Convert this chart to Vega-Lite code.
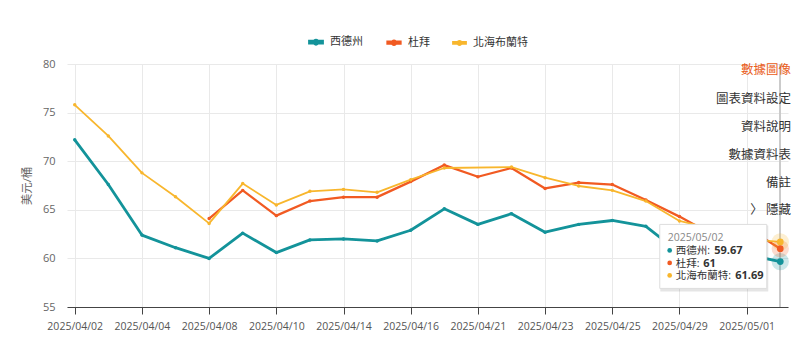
{
  "$schema": "https://vega.github.io/schema/vega-lite/v6.json",
  "autosize": "none",
  "width": 721,
  "height": 243,
  "padding": {"left": 67, "top": 64, "right": 12, "bottom": 33},
  "background": "white",
  "config": {
    "font": "Open Sans, Noto Sans CJK TC, sans-serif",
    "view": {"stroke": null}
  },
  "title": {
    "text": "數據圖像",
    "subtitle": ["圖表資料設定", "資料說明", "數據資料表", "備註", "〉 隱藏"],
    "anchor": "end",
    "frame": "group",
    "orient": "top",
    "offset": -183,
    "dx": 3,
    "fontSize": 12.5,
    "fontWeight": "normal",
    "color": "#e95c20",
    "subtitleFontSize": 12.5,
    "subtitleColor": "#333333",
    "subtitleLineHeight": 27.8,
    "subtitlePadding": 17
  },
  "datasets": {
    "prices": [
      {"date": "2025/04/02", "series": "西德州", "value": 72.2},
      {"date": "2025/04/03", "series": "西德州", "value": 67.6},
      {"date": "2025/04/04", "series": "西德州", "value": 62.4},
      {"date": "2025/04/07", "series": "西德州", "value": 61.1},
      {"date": "2025/04/08", "series": "西德州", "value": 60.0},
      {"date": "2025/04/09", "series": "西德州", "value": 62.6},
      {"date": "2025/04/10", "series": "西德州", "value": 60.6},
      {"date": "2025/04/11", "series": "西德州", "value": 61.9},
      {"date": "2025/04/14", "series": "西德州", "value": 62.0},
      {"date": "2025/04/15", "series": "西德州", "value": 61.8},
      {"date": "2025/04/16", "series": "西德州", "value": 62.9},
      {"date": "2025/04/17", "series": "西德州", "value": 65.1},
      {"date": "2025/04/21", "series": "西德州", "value": 63.5},
      {"date": "2025/04/22", "series": "西德州", "value": 64.6},
      {"date": "2025/04/23", "series": "西德州", "value": 62.7},
      {"date": "2025/04/24", "series": "西德州", "value": 63.5},
      {"date": "2025/04/25", "series": "西德州", "value": 63.9},
      {"date": "2025/04/28", "series": "西德州", "value": 63.3},
      {"date": "2025/04/29", "series": "西德州", "value": 60.6},
      {"date": "2025/04/30", "series": "西德州", "value": 59.8},
      {"date": "2025/05/01", "series": "西德州", "value": 60.4},
      {"date": "2025/05/02", "series": "西德州", "value": 59.67},
      {"date": "2025/04/08", "series": "杜拜", "value": 64.1},
      {"date": "2025/04/09", "series": "杜拜", "value": 67.0},
      {"date": "2025/04/10", "series": "杜拜", "value": 64.4},
      {"date": "2025/04/11", "series": "杜拜", "value": 65.9},
      {"date": "2025/04/14", "series": "杜拜", "value": 66.3},
      {"date": "2025/04/15", "series": "杜拜", "value": 66.3},
      {"date": "2025/04/16", "series": "杜拜", "value": 67.9},
      {"date": "2025/04/17", "series": "杜拜", "value": 69.6},
      {"date": "2025/04/21", "series": "杜拜", "value": 68.4},
      {"date": "2025/04/22", "series": "杜拜", "value": 69.3},
      {"date": "2025/04/23", "series": "杜拜", "value": 67.2},
      {"date": "2025/04/24", "series": "杜拜", "value": 67.8},
      {"date": "2025/04/25", "series": "杜拜", "value": 67.6},
      {"date": "2025/04/28", "series": "杜拜", "value": 66.0},
      {"date": "2025/04/29", "series": "杜拜", "value": 64.3},
      {"date": "2025/04/30", "series": "杜拜", "value": 62.4},
      {"date": "2025/05/01", "series": "杜拜", "value": 63.2},
      {"date": "2025/05/02", "series": "杜拜", "value": 61},
      {"date": "2025/04/02", "series": "北海布蘭特", "value": 75.8},
      {"date": "2025/04/03", "series": "北海布蘭特", "value": 72.6},
      {"date": "2025/04/04", "series": "北海布蘭特", "value": 68.8},
      {"date": "2025/04/07", "series": "北海布蘭特", "value": 66.35},
      {"date": "2025/04/08", "series": "北海布蘭特", "value": 63.6},
      {"date": "2025/04/09", "series": "北海布蘭特", "value": 67.7},
      {"date": "2025/04/10", "series": "北海布蘭特", "value": 65.5},
      {"date": "2025/04/11", "series": "北海布蘭特", "value": 66.9},
      {"date": "2025/04/14", "series": "北海布蘭特", "value": 67.1},
      {"date": "2025/04/15", "series": "北海布蘭特", "value": 66.8},
      {"date": "2025/04/16", "series": "北海布蘭特", "value": 68.1},
      {"date": "2025/04/17", "series": "北海布蘭特", "value": 69.3},
      {"date": "2025/04/22", "series": "北海布蘭特", "value": 69.4},
      {"date": "2025/04/23", "series": "北海布蘭特", "value": 68.3},
      {"date": "2025/04/24", "series": "北海布蘭特", "value": 67.45},
      {"date": "2025/04/25", "series": "北海布蘭特", "value": 67.0},
      {"date": "2025/04/28", "series": "北海布蘭特", "value": 65.9},
      {"date": "2025/04/29", "series": "北海布蘭特", "value": 63.85},
      {"date": "2025/04/30", "series": "北海布蘭特", "value": 63.0},
      {"date": "2025/05/01", "series": "北海布蘭特", "value": 62.0},
      {"date": "2025/05/02", "series": "北海布蘭特", "value": 61.69}
    ]
  },
  "data": {"name": "prices"},
  "layer": [
    {
      "mark": {"type": "rule", "color": "#cccccc", "strokeWidth": 1},
      "encoding": {
        "x": {"datum": "2025/05/02", "type": "ordinal"}
      }
    },
    {
      "mark": {"type": "line", "strokeJoin": "round"},
      "encoding": {
        "x": {
          "field": "date",
          "type": "ordinal",
          "scale": {"type": "point", "padding": 0.23},
          "axis": {
            "values": ["2025/04/02", "2025/04/04", "2025/04/08", "2025/04/10", "2025/04/14", "2025/04/16", "2025/04/21", "2025/04/23", "2025/04/25", "2025/04/29", "2025/05/01"],
            "title": null,
            "labelAngle": 0,
            "labelAlign": "center",
            "labelBaseline": "top",
            "grid": true,
            "gridColor": "#e9e9e9",
            "domainColor": "#444444",
            "tickColor": "#444444",
            "tickSize": 7,
            "labelPadding": 7,
            "labelFontSize": 10.5,
            "labelColor": "#555555"
          }
        },
        "y": {
          "field": "value",
          "type": "quantitative",
          "scale": {"domain": [55, 80], "zero": false, "nice": false},
          "axis": {
            "values": [55, 60, 65, 70, 75, 80],
            "title": "美元/桶",
            "domain": false,
            "ticks": false,
            "labelPadding": 12,
            "gridColor": "#e9e9e9",
            "labelColor": "#666666",
            "labelFontSize": 11,
            "titleColor": "#666666",
            "titleFontSize": 11.5,
            "titleFontWeight": "normal",
            "titlePadding": 10
          }
        },
        "color": {
          "field": "series",
          "type": "nominal",
          "scale": {"domain": ["西德州", "杜拜", "北海布蘭特"], "range": ["#13939a", "#f15a22", "#f8b62d"]},
          "legend": {
            "orient": "none",
            "legendX": 241,
            "legendY": -30,
            "direction": "horizontal",
            "title": null,
            "padding": 0,
            "symbolType": "M-1,-0.14H1V0.14H-1Z M-0.32,0A0.32,0.32 0 1,1 0.32,0A0.32,0.32 0 1,1 -0.32,0Z",
            "symbolSize": 169,
            "symbolStrokeWidth": 0,
            "labelFontSize": 11,
            "labelColor": "#333333",
            "labelOffset": 6,
            "columnPadding": 19,
            "encode": {
              "symbols": {
                "update": {
                  "fill": {"scale": "color", "field": "value"},
                  "opacity": {"value": 1},
                  "strokeWidth": {"value": 0}
                }
              }
            }
          }
        },
        "strokeWidth": {
          "field": "series",
          "type": "nominal",
          "scale": {"domain": ["西德州", "杜拜", "北海布蘭特"], "range": [2.8, 1.8, 1.8]},
          "legend": null
        }
      }
    },
    {
      "mark": {"type": "point", "filled": true, "size": 12, "opacity": 1},
      "encoding": {
        "x": {"field": "date", "type": "ordinal"},
        "y": {"field": "value", "type": "quantitative"},
        "color": {"field": "series", "type": "nominal", "legend": null}
      }
    },
    {
      "transform": [{"filter": "datum.date == '2025/05/02'"}],
      "mark": {"type": "point", "filled": true, "size": 300, "opacity": 0.22},
      "encoding": {
        "x": {"field": "date", "type": "ordinal"},
        "y": {"field": "value", "type": "quantitative"},
        "color": {"field": "series", "type": "nominal", "legend": null}
      }
    },
    {
      "transform": [{"filter": "datum.date == '2025/05/02'"}],
      "mark": {"type": "point", "filled": true, "size": 45, "opacity": 1},
      "encoding": {
        "x": {"field": "date", "type": "ordinal"},
        "y": {"field": "value", "type": "quantitative"},
        "color": {"field": "series", "type": "nominal", "legend": null}
      }
    },
    {
      "transform": [{"filter": "datum.date == '2025/05/02' && datum.series == '西德州'"}],
      "mark": {"type": "point", "filled": true, "shape": "M-1.08,-0.66H1.08V0.66H-1.08Z", "size": 10000, "color": "#000000", "opacity": 0.1, "xOffset": -66, "yOffset": 0},
      "encoding": {
        "x": {"field": "date", "type": "ordinal"},
        "y": {"datum": 60, "type": "quantitative"}
      }
    },
    {
      "transform": [{"filter": "datum.date == '2025/05/02' && datum.series == '西德州'"}],
      "mark": {"type": "point", "filled": true, "shape": "M-1.07,-0.64H1.07V0.64H-1.07Z", "size": 10000, "fill": "#ffffff", "stroke": "#dddddd", "strokeWidth": 1, "fillOpacity": 1, "opacity": 1, "xOffset": -67, "yOffset": -2},
      "encoding": {
        "x": {"field": "date", "type": "ordinal"},
        "y": {"datum": 60, "type": "quantitative"}
      }
    },
    {
      "transform": [{"filter": "datum.date == '2025/05/02' && datum.series == '西德州'"}],
      "mark": {"type": "text", "align": "left", "baseline": "middle", "dx": -112.6, "dy": -20, "fontSize": 10.5, "color": "#888888"},
      "encoding": {
        "x": {"field": "date", "type": "ordinal"},
        "y": {"datum": 60, "type": "quantitative"},
        "text": {"field": "date", "type": "nominal"}
      }
    },
    {
      "transform": [{"filter": "datum.date == '2025/05/02' && datum.series == '西德州'"}],
      "mark": {"type": "point", "filled": true, "size": 22, "opacity": 1, "xOffset": -110.6, "yOffset": -8},
      "encoding": {
        "x": {"field": "date", "type": "ordinal"},
        "y": {"datum": 60, "type": "quantitative"},
        "color": {"field": "series", "type": "nominal", "legend": null}
      }
    },
    {
      "transform": [{"filter": "datum.date == '2025/05/02' && datum.series == '杜拜'"}],
      "mark": {"type": "point", "filled": true, "size": 22, "opacity": 1, "xOffset": -110.6, "yOffset": 4.5},
      "encoding": {
        "x": {"field": "date", "type": "ordinal"},
        "y": {"datum": 60, "type": "quantitative"},
        "color": {"field": "series", "type": "nominal", "legend": null}
      }
    },
    {
      "transform": [{"filter": "datum.date == '2025/05/02' && datum.series == '北海布蘭特'"}],
      "mark": {"type": "point", "filled": true, "size": 22, "opacity": 1, "xOffset": -110.6, "yOffset": 17},
      "encoding": {
        "x": {"field": "date", "type": "ordinal"},
        "y": {"datum": 60, "type": "quantitative"},
        "color": {"field": "series", "type": "nominal", "legend": null}
      }
    },
    {
      "transform": [{"filter": "datum.date == '2025/05/02' && datum.series == '西德州'"}, {"calculate": "datum.series + ':'", "as": "lbl"}],
      "mark": {"type": "text", "align": "left", "baseline": "middle", "dx": -104.6, "dy": -7, "fontSize": 10.5, "color": "#333333"},
      "encoding": {
        "x": {"field": "date", "type": "ordinal"},
        "y": {"datum": 60, "type": "quantitative"},
        "text": {"field": "lbl", "type": "nominal"}
      }
    },
    {
      "transform": [{"filter": "datum.date == '2025/05/02' && datum.series == '杜拜'"}, {"calculate": "datum.series + ':'", "as": "lbl"}],
      "mark": {"type": "text", "align": "left", "baseline": "middle", "dx": -104.6, "dy": 5.5, "fontSize": 10.5, "color": "#333333"},
      "encoding": {
        "x": {"field": "date", "type": "ordinal"},
        "y": {"datum": 60, "type": "quantitative"},
        "text": {"field": "lbl", "type": "nominal"}
      }
    },
    {
      "transform": [{"filter": "datum.date == '2025/05/02' && datum.series == '北海布蘭特'"}, {"calculate": "datum.series + ':'", "as": "lbl"}],
      "mark": {"type": "text", "align": "left", "baseline": "middle", "dx": -104.6, "dy": 18, "fontSize": 10.5, "color": "#333333"},
      "encoding": {
        "x": {"field": "date", "type": "ordinal"},
        "y": {"datum": 60, "type": "quantitative"},
        "text": {"field": "lbl", "type": "nominal"}
      }
    },
    {
      "transform": [{"filter": "datum.date == '2025/05/02' && datum.series == '西德州'"}, {"calculate": "'' + datum.value", "as": "val"}],
      "mark": {"type": "text", "align": "left", "baseline": "middle", "dx": -66, "dy": -7, "fontSize": 11, "fontWeight": "bold", "color": "#333333"},
      "encoding": {
        "x": {"field": "date", "type": "ordinal"},
        "y": {"datum": 60, "type": "quantitative"},
        "text": {"field": "val", "type": "nominal"}
      }
    },
    {
      "transform": [{"filter": "datum.date == '2025/05/02' && datum.series == '杜拜'"}, {"calculate": "'' + datum.value", "as": "val"}],
      "mark": {"type": "text", "align": "left", "baseline": "middle", "dx": -77, "dy": 5.5, "fontSize": 11, "fontWeight": "bold", "color": "#333333"},
      "encoding": {
        "x": {"field": "date", "type": "ordinal"},
        "y": {"datum": 60, "type": "quantitative"},
        "text": {"field": "val", "type": "nominal"}
      }
    },
    {
      "transform": [{"filter": "datum.date == '2025/05/02' && datum.series == '北海布蘭特'"}, {"calculate": "'' + datum.value", "as": "val"}],
      "mark": {"type": "text", "align": "left", "baseline": "middle", "dx": -45, "dy": 18, "fontSize": 11, "fontWeight": "bold", "color": "#333333"},
      "encoding": {
        "x": {"field": "date", "type": "ordinal"},
        "y": {"datum": 60, "type": "quantitative"},
        "text": {"field": "val", "type": "nominal"}
      }
    }
  ]
}
